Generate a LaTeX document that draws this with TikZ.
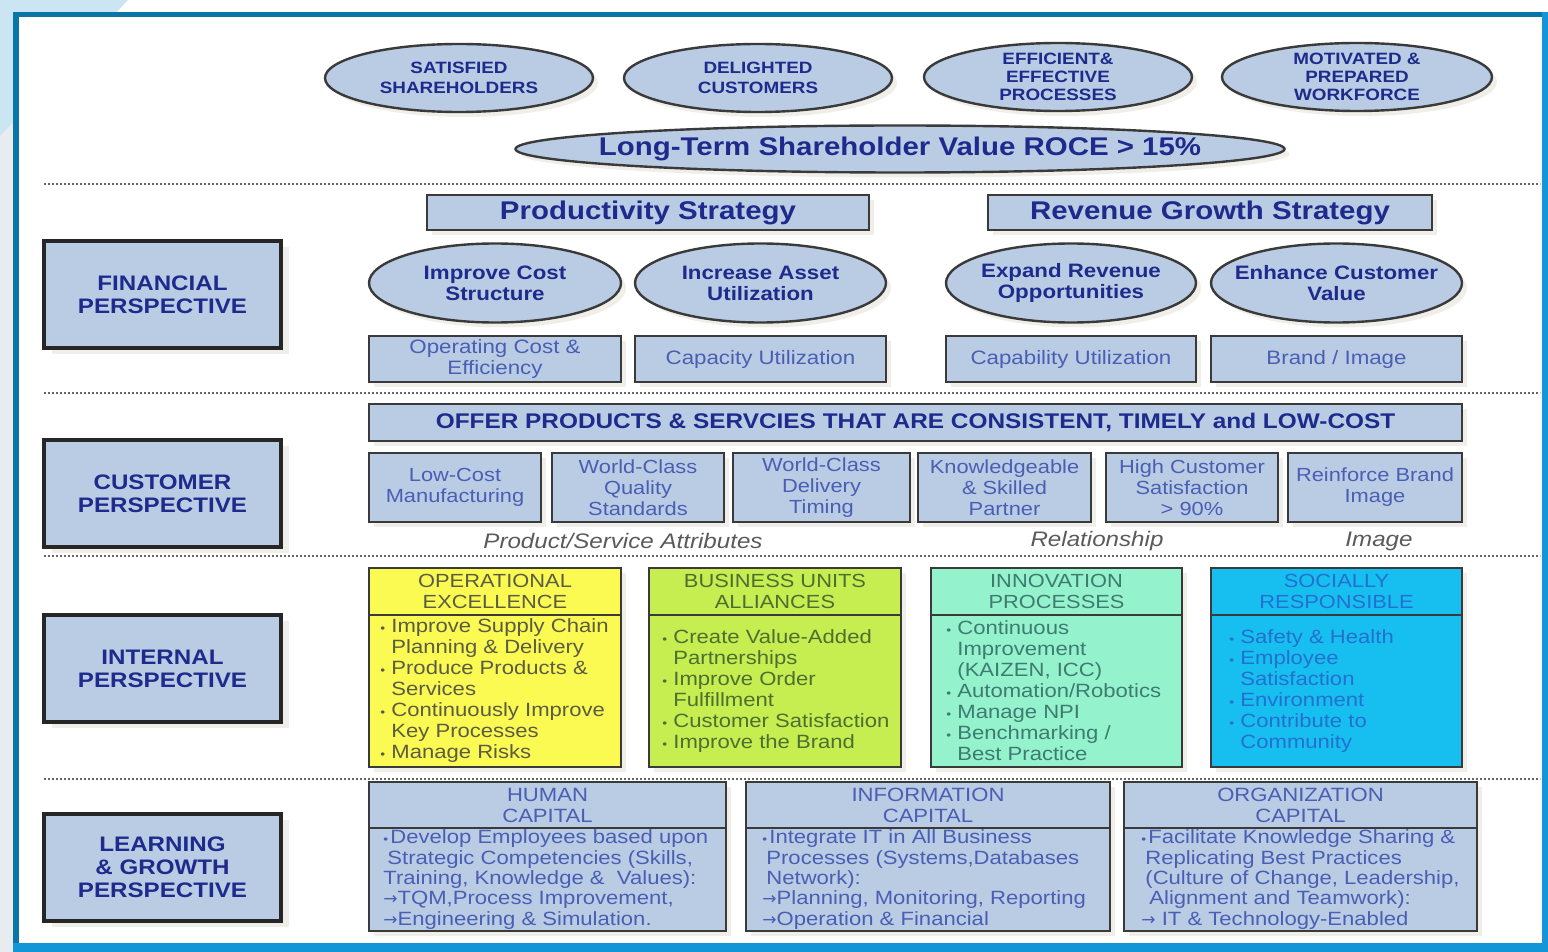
\documentclass[tikz,border=0pt]{standalone}
\usepackage{fontspec}
\setmainfont{Liberation Sans}[FakeStretch=1.15]
\newfontfamily\arrowfont{DejaVu Sans}
\usepackage{tikz}
\usetikzlibrary{positioning,shapes.geometric,shadows}
\definecolor{navy}{HTML}{1E2B8C}
\definecolor{midblue}{HTML}{4A5EB4}
\definecolor{boxfill}{HTML}{B9CCE4}
\definecolor{edge}{HTML}{3A3A3A}
\definecolor{shadowc}{HTML}{E3DFD3}
\definecolor{labelgray}{HTML}{5A5A5A}
\definecolor{opfill}{HTML}{FAFA52}
\definecolor{opfont}{HTML}{5C5C44}
\definecolor{bufill}{HTML}{C6EE50}
\definecolor{bufont}{HTML}{4E6E32}
\definecolor{infill}{HTML}{94F2CC}
\definecolor{infont}{HTML}{3E7C72}
\definecolor{srfill}{HTML}{17BEF0}
\definecolor{srfont}{HTML}{2470D0}
\definecolor{frameA}{HTML}{0A76A8}
\definecolor{frameB}{HTML}{1396D8}
\definecolor{paleblue}{HTML}{CCE5F2}
\definecolor{palegray}{HTML}{E9ECEF}
\newcommand{\blt}{\makebox[5.5pt][l]{\fontsize{6}{6}\selectfont\textbullet}}
\newcommand{\contd}{\hspace*{5.5pt}}
\newcommand{\arr}{{\arrowfont\fontsize{8.5}{8.5}\selectfont →}}

\begin{document}
\begin{tikzpicture}[x=1pt,y=-1pt]
    \tikzstyle{softshadow} = [drop shadow={shadow xshift=2.5pt, shadow yshift=-2.5pt, fill=shadowc}]
    \tikzstyle{oval} = [ellipse, draw=edge, line width=1.2pt, fill=boxfill, inner sep=0, softshadow]
    \tikzstyle{ovaltext} = [align=center, text=navy, inner sep=0, font=\fontsize{8.2}{10}\selectfont\bfseries]
    \tikzstyle{goaltext} = [ovaltext, font=\fontsize{9.7}{10.5}\selectfont\bfseries]
    \tikzstyle{persp} = [rectangle, draw=black!85, line width=1.6pt, fill=boxfill, text=navy, align=center, inner sep=0, minimum width=118.5pt, minimum height=53.5pt, font=\fontsize{10.5}{11.5}\selectfont\bfseries, drop shadow={shadow xshift=4pt, shadow yshift=-3pt, fill=shadowc}]
    \tikzstyle{strat} = [rectangle, draw=edge, line width=1.1pt, fill=boxfill, text=navy, inner sep=0, minimum height=17.5pt, font=\fontsize{12.8}{14}\selectfont\bfseries, softshadow]
    \tikzstyle{measure} = [rectangle, draw=edge, line width=1.1pt, fill=boxfill, text=midblue, align=center, inner sep=0, minimum height=23pt, font=\fontsize{9.7}{10.5}\selectfont, softshadow]
    \tikzstyle{attr} = [measure, minimum height=34.5pt, font=\fontsize{9.5}{10.5}\selectfont]
    \tikzstyle{grouplabel} = [text=labelgray, inner sep=0, font=\fontsize{10.5}{12}\selectfont\itshape]
    \tikzstyle{head} = [rectangle, draw=edge, line width=1.1pt, align=center, inner sep=0, outer sep=0, minimum height=23.5pt, font=\fontsize{9.5}{10.5}\selectfont, softshadow]
    \tikzstyle{body} = [rectangle, draw=edge, line width=1.1pt, inner sep=0, outer sep=0, softshadow]
    \tikzstyle{listtext} = [anchor=west, align=left, inner sep=0, font=\fontsize{9.6}{10.5}\selectfont]
    \tikzstyle{separator} = [black!60, line width=1pt, dash pattern=on 1.2pt off 0.8pt]

    % frame
    \useasboundingbox (0,0) rectangle (774,476);
    \fill[white] (0,0) rectangle (774,476);
    \fill[palegray] (0,60) rectangle (7,476);
    \fill[paleblue] (0,0) -- (64,0) -- (0,68) -- cycle;
    \fill[frameB] (6.5,6) rectangle (774,476);
    \fill[frameA] (6.5,6) rectangle (770.75,8.75);
    \fill[frameA] (6.5,6) rectangle (9.5,471.5);
    \fill[white] (9.5,8.75) rectangle (770.75,471.5);

    \draw[separator] (22,92) -- (770,92);
    \draw[separator] (22,196.5) -- (770,196.5);
    \draw[separator] (22,278) -- (770,278);
    \draw[separator] (22,389.5) -- (770,389.5);

    % outcomes
    \node[oval, minimum width=134pt, minimum height=34pt, label={[ovaltext]center:SATISFIED\\SHAREHOLDERS}] (shareholders) at (229.5,39) {};
    \node[oval, minimum width=134pt, minimum height=34pt, label={[ovaltext]center:DELIGHTED\\CUSTOMERS}] (customers) at (379,39) {};
    \node[oval, minimum width=134pt, minimum height=34pt, label={[ovaltext, font=\fontsize{8.2}{9}\selectfont\bfseries]center:EFFICIENT\&\\EFFECTIVE\\PROCESSES}] (processes) at (529,38.5) {};
    \node[oval, minimum width=135pt, minimum height=34pt, label={[ovaltext, font=\fontsize{8.2}{9}\selectfont\bfseries]center:MOTIVATED \&\\PREPARED\\WORKFORCE}] (workforce) at (678.5,38.5) {};
    \node[oval, minimum width=384.5pt, minimum height=23.5pt, label={[ovaltext, font=\fontsize{12.8}{14}\selectfont\bfseries]center:Long-Term Shareholder Value ROCE > 15\%}] (roce) at (450,74.5) {};

    % perspectives
    \node[persp] (financial) at (81.25,147.25) {FINANCIAL\\PERSPECTIVE};
    \node[persp] (customer) at (81.25,246.75) {CUSTOMER\\PERSPECTIVE};
    \node[persp] (internal) at (81.25,334.25) {INTERNAL\\PERSPECTIVE};
    \node[persp] (learning) at (81.25,433.75) {LEARNING\\\& GROWTH\\PERSPECTIVE};

    % financial
    \node[strat, minimum width=221pt] (productivity) at (324,106.25) {Productivity Strategy};
    \node[strat, minimum width=222pt] (growth) at (605,106.25) {Revenue Growth Strategy};
    \node[oval, minimum width=126pt, minimum height=39.5pt, label={[goaltext]center:Improve Cost\\Structure}] (cost) at (247.5,141.5) {};
    \node[oval, minimum width=125.5pt, minimum height=39.5pt, label={[goaltext]center:Increase Asset\\Utilization}] (asset) at (380.25,141.5) {};
    \node[oval, minimum width=125pt, minimum height=39.5pt, label={[goaltext]center:Expand Revenue\\Opportunities}] (revenue) at (535.5,141.5) {};
    \node[oval, minimum width=125.5pt, minimum height=39.5pt, label={[goaltext]center:Enhance Customer\\Value}] (value) at (668.25,141.5) {};
    \node[measure, minimum width=126pt] (opcost) at (247.5,179.5) {Operating Cost \&\\Efficiency};
    \node[measure, minimum width=125.5pt] (capacity) at (380.25,179.5) {Capacity Utilization};
    \node[measure, minimum width=125pt] (capability) at (535.5,179.5) {Capability Utilization};
    \node[measure, minimum width=125.5pt] (brand) at (668.25,179.5) {Brand / Image};

    % customer
    \node[strat, minimum width=546.5pt, minimum height=18.5pt, font=\fontsize{10.6}{12}\selectfont\bfseries] (offer) at (457.75,211.25) {OFFER PRODUCTS \& SERVCIES THAT ARE CONSISTENT, TIMELY and LOW-COST};
    \node[attr, minimum width=86pt] (lowcost) at (227.5,243.75) {Low-Cost\\Manufacturing};
    \node[attr, minimum width=86pt] (quality) at (319,243.75) {World-Class\\Quality\\Standards};
    \node[attr, minimum width=88.5pt] (delivery) at (410.75,243.75) {World-Class\\Delivery\\Timing};
    \node[attr, minimum width=86.5pt] (partner) at (502.25,243.75) {Knowledgeable\\\& Skilled\\Partner};
    \node[attr, minimum width=86pt] (satisfaction) at (596,243.75) {High Customer\\Satisfaction\\> 90\%};
    \node[attr, minimum width=87pt] (reinforce) at (687.5,243.75) {Reinforce Brand\\Image};
    \node[grouplabel] (attributes) at (311.5,270.5) {Product/Service Attributes};
    \node[grouplabel] (relationship) at (548.5,270.5) {Relationship};
    \node[grouplabel] (image) at (689.5,270.5) {Image};

    % internal
    \node[head, fill=opfill, text=opfont, minimum width=126pt] (opexhead) at (247.5,295.75) {OPERATIONAL\\EXCELLENCE};
    \node[body, fill=opfill, minimum width=126pt, minimum height=76pt, below=0pt of opexhead] (opexbody) {};
    \node[listtext, text=opfont] (opexlist) at ([xshift=5.5pt]opexbody.west) {\blt Improve Supply Chain\\\contd Planning \& Delivery\\\blt Produce Products \&\\\contd Services\\\blt Continuously Improve\\\contd Key Processes\\\blt Manage Risks};
    \node[head, fill=bufill, text=bufont, minimum width=126pt] (buhead) at (387.5,295.75) {BUSINESS UNITS\\ALLIANCES};
    \node[body, fill=bufill, minimum width=126pt, minimum height=76pt, below=0pt of buhead] (bubody) {};
    \node[listtext, text=bufont] (bulist) at ([xshift=6.5pt]bubody.west) {\blt Create Value-Added\\\contd Partnerships\\\blt Improve Order\\\contd Fulfillment\\\blt Customer Satisfaction\\\blt Improve the Brand};
    \node[head, fill=infill, text=infont, minimum width=125.5pt] (innovhead) at (528.25,295.75) {INNOVATION\\PROCESSES};
    \node[body, fill=infill, minimum width=125.5pt, minimum height=76pt, below=0pt of innovhead] (innovbody) {};
    \node[listtext, text=infont] (innovlist) at ([xshift=7.5pt]innovbody.west) {\blt Continuous\\\contd Improvement\\\contd (KAIZEN, ICC)\\\blt Automation/Robotics\\\blt Manage NPI\\\blt Benchmarking /\\\contd Best Practice};
    \node[head, fill=srfill, text=srfont, minimum width=125.5pt] (socialhead) at (668.25,295.75) {SOCIALLY\\RESPONSIBLE};
    \node[body, fill=srfill, minimum width=125.5pt, minimum height=76pt, below=0pt of socialhead] (socialbody) {};
    \node[listtext, text=srfont] (sociallist) at ([xshift=9pt]socialbody.west) {\blt Safety \& Health\\\blt Employee\\\contd Satisfaction\\\blt Environment\\\blt Contribute to\\\contd Community};

    % learning and growth
    \node[head, fill=boxfill, text=midblue, minimum width=178.5pt, minimum height=23pt, font=\fontsize{9.6}{10.5}\selectfont] (humanhead) at (273.75,402.5) {HUMAN\\CAPITAL};
    \node[body, fill=boxfill, minimum width=178.5pt, minimum height=51.5pt, below=0pt of humanhead] (humanbody) {};
    \node[listtext, text=midblue, font=\fontsize{9.6}{10.2}\selectfont] (humanlist) at ([xshift=7pt]humanbody.west) {\blt\hspace{-2pt}Develop Employees based upon\\\hspace*{2pt}Strategic Competencies (Skills,\\Training, Knowledge \&\ \ Values):\\\arr TQM,Process Improvement,\\\arr Engineering \& Simulation.};
    \node[head, fill=boxfill, text=midblue, minimum width=182pt, minimum height=23pt, font=\fontsize{9.6}{10.5}\selectfont] (infohead) at (464,402.5) {INFORMATION\\CAPITAL};
    \node[body, fill=boxfill, minimum width=182pt, minimum height=51.5pt, below=0pt of infohead] (infobody) {};
    \node[listtext, text=midblue, font=\fontsize{9.6}{10.2}\selectfont] (infolist) at ([xshift=8pt]infobody.west) {\blt\hspace{-2pt}Integrate IT in All Business\\\hspace*{2pt}Processes (Systems,Databases\\\hspace*{2pt}Network):\\\arr Planning, Monitoring, Reporting\\\arr Operation \& Financial};
    \node[head, fill=boxfill, text=midblue, minimum width=176.5pt, minimum height=23pt, font=\fontsize{9.6}{10.5}\selectfont] (orghead) at (650.25,402.5) {ORGANIZATION\\CAPITAL};
    \node[body, fill=boxfill, minimum width=176.5pt, minimum height=51.5pt, below=0pt of orghead] (orgbody) {};
    \node[listtext, text=midblue, font=\fontsize{9.6}{10.2}\selectfont] (orglist) at ([xshift=8.5pt]orgbody.west) {\blt\hspace{-2pt}Facilitate Knowledge Sharing \&\\\hspace*{2pt}Replicating Best Practices\\\hspace*{2pt}(Culture of Change, Leadership,\\\hspace*{4pt}Alignment and Teamwork):\\\arr\ IT \& Technology-Enabled};
\end{tikzpicture}
\end{document}
